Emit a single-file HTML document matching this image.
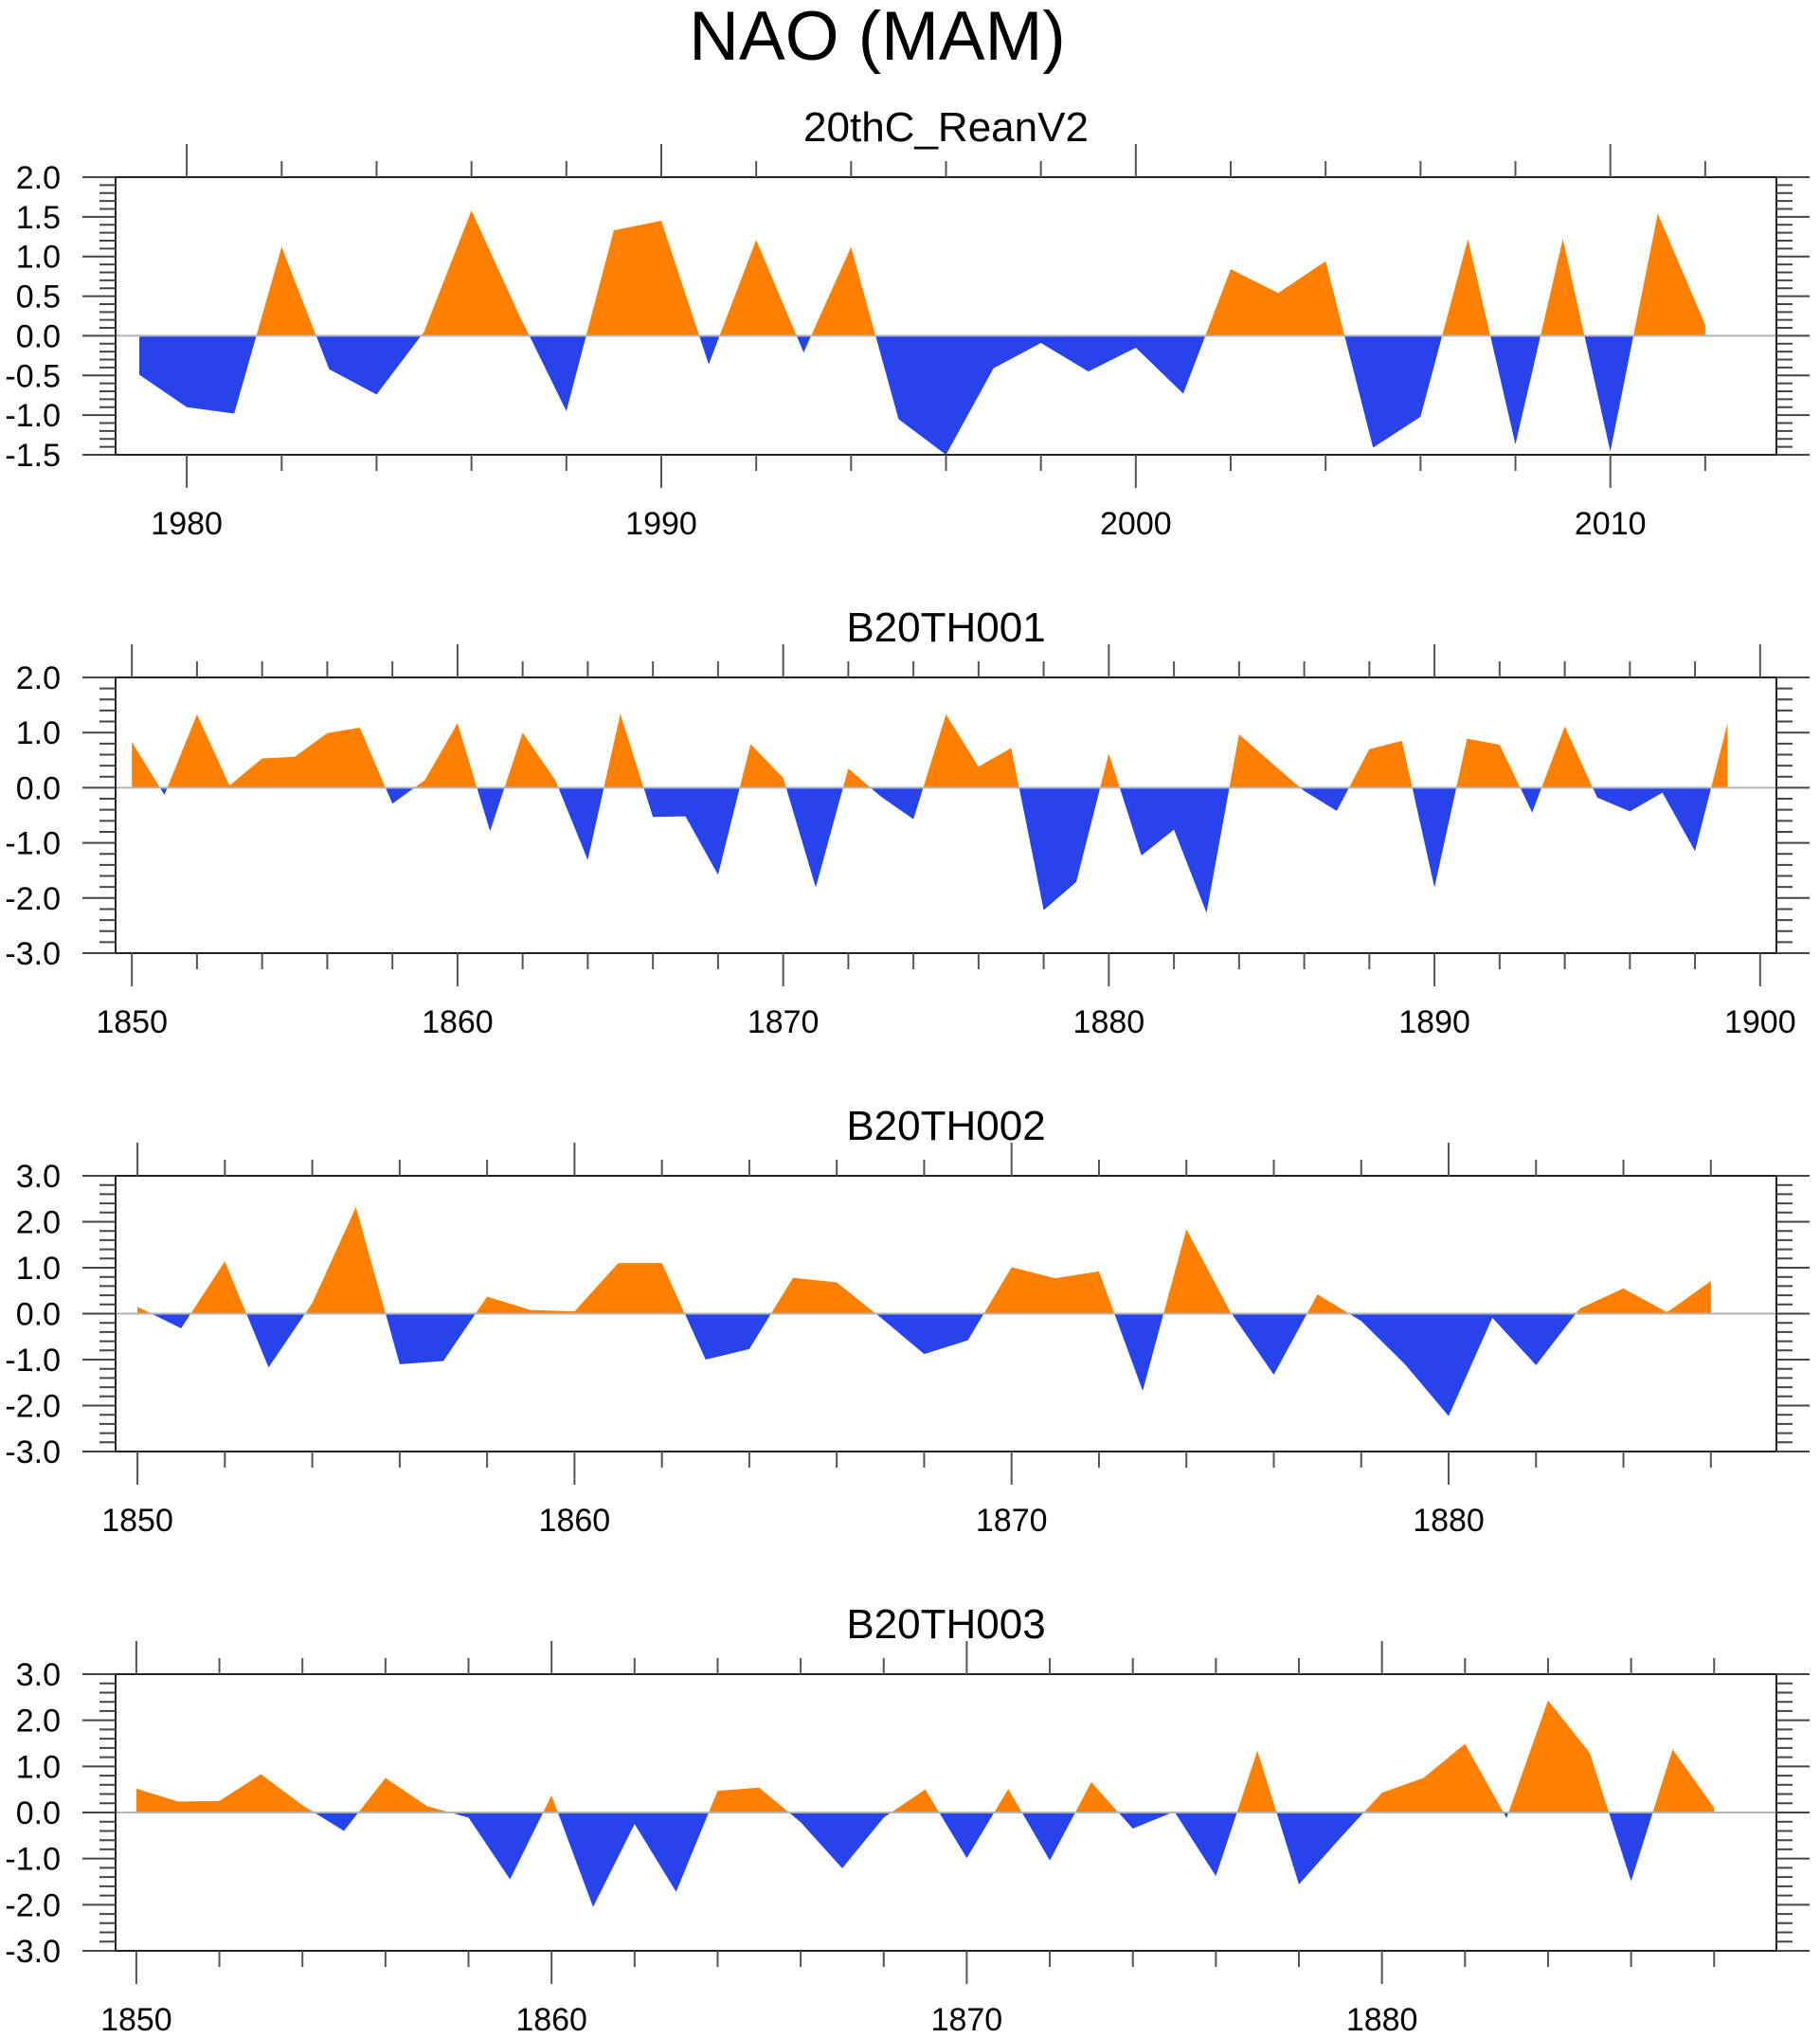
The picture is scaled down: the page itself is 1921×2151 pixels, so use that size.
<!DOCTYPE html>
<html><head><meta charset="utf-8"><style>
html,body{margin:0;padding:0;background:#fff}
svg{display:block}
text{font-family:"Liberation Sans",sans-serif;fill:#000}
</style></head><body>
<svg id="fig" width="1921" height="2151" viewBox="0 0 1921 2151" xmlns="http://www.w3.org/2000/svg">
<text x="926" y="63" font-size="73" text-anchor="middle">NAO (MAM)</text>
</svg>
<script>
const reanYears = [1979,2012];
const reanValues = [-0.49,-0.90,-0.98,1.12,-0.42,-0.74,0.05,1.58,0.27,-0.95,1.33,1.45,-0.36,1.21,-0.21,1.12,-1.05,-1.50,-0.41,-0.09,-0.45,-0.15,-0.73,0.84,0.54,0.94,-1.41,-1.02,1.22,-1.37,1.22,-1.46,1.54,0.14];
const b001Values = [0.83,-0.13,1.33,0.04,0.53,0.56,0.99,1.09,-0.29,0.14,1.17,-0.79,1.0,0.14,-1.31,1.34,-0.53,-0.52,-1.58,0.79,0.18,-1.81,0.35,-0.16,-0.57,1.33,0.38,0.72,-2.22,-1.71,0.62,-1.23,-0.76,-2.27,0.97,0.45,-0.06,-0.42,0.70,0.85,-1.81,0.89,0.78,-0.45,1.11,-0.18,-0.43,-0.09,-1.15,1.17];
const b002Values = [0.15,-0.32,1.14,-1.17,0.23,2.32,-1.10,-1.03,0.37,0.08,0.05,1.10,1.10,-1.0,-0.77,0.78,0.68,-0.08,-0.88,-0.58,1.01,0.77,0.92,-1.68,1.84,0.05,-1.33,0.42,-0.16,-1.10,-2.23,-0.09,-1.12,0.11,0.55,0.03,0.71];
const b003Values = [0.52,0.24,0.25,0.83,0.16,-0.40,0.75,0.14,-0.11,-1.45,0.37,-2.05,-0.25,-1.72,0.47,0.54,-0.21,-1.21,-0.11,0.50,-0.99,0.51,-1.04,0.66,-0.35,0.02,-1.38,1.34,-1.56,-0.55,0.43,0.75,1.49,-0.12,2.43,1.30,-1.49,1.37,0.10];
const reanYTicks = ["2.0","1.5","1.0","0.5","0.0","-0.5","-1.0","-1.5"];
const modelYTicks2 = ["2.0","1.0","0.0","-1.0","-2.0","-3.0"];
const modelYTicks3 = ["3.0","2.0","1.0","0.0","-1.0","-2.0","-3.0"];

const NS="http://www.w3.org/2000/svg";
const svg=document.getElementById('fig');
function mk(tag,attrs,parent){const e=document.createElementNS(NS,tag);for(const k in attrs)e.setAttribute(k,attrs[k]);(parent||svg).appendChild(e);return e;}

const panels=[
 {name:'reanv2',title:'20thC_ReanV2',vals:reanValues,y0:reanYears[0],xmin:1978.5,xmax:2013.5,ymin:-1.5,ymax:2.0,top:187,bot:480,ticks:reanYTicks,minorY:0.1,majorX:10,minorX:2,firstLabel:1980,lastLabel:2010},
 {name:'b20th001',title:'B20TH001',vals:b001Values,y0:1850,xmin:1849.5,xmax:1900.5,ymin:-3,ymax:2,top:715,bot:1006,ticks:modelYTicks2,minorY:0.2,majorX:10,minorX:2,firstLabel:1850,lastLabel:1900},
 {name:'b20th002',title:'B20TH002',vals:b002Values,y0:1850,xmin:1849.5,xmax:1887.5,ymin:-3,ymax:3,top:1241,bot:1532,ticks:modelYTicks3,minorY:0.2,majorX:10,minorX:2,firstLabel:1850,lastLabel:1880},
 {name:'b20th003',title:'B20TH003',vals:b003Values,y0:1850,xmin:1849.5,xmax:1889.5,ymin:-3,ymax:3,top:1767,bot:2059,ticks:modelYTicks3,minorY:0.2,majorX:10,minorX:2,firstLabel:1850,lastLabel:1880}
];
const L=122,R=1875;
panels.forEach((p,pi)=>{
  const g=mk('g',{});
  
  
  const xs=v=>L+(v-p.xmin)/(p.xmax-p.xmin)*(R-L);
  const ys=v=>p.bot-(v-p.ymin)/(p.ymax-p.ymin)*(p.bot-p.top);
  const z=ys(0);
  const t=mk('text',{x:(L+R)/2,y:p.top-38,'font-size':44,'text-anchor':'middle'},g);
  t.textContent=p.title;
  
  
  const defs=mk('defs',{},g);
  const cu=mk('clipPath',{id:'cu'+pi},defs); mk('rect',{x:L,y:p.top,width:R-L,height:z-p.top},cu);
  const cd=mk('clipPath',{id:'cd'+pi},defs); mk('rect',{x:L,y:z,width:R-L,height:p.bot-z},cd);
  let pts=[[xs(p.y0),z]];
  p.vals.forEach((v,i)=>pts.push([xs(p.y0+i),ys(v)]));
  pts.push([xs(p.y0+p.vals.length-1),z]);
  const ptsStr=pts.map(q=>q[0].toFixed(2)+','+q[1].toFixed(2)).join(' ');
  const pos=mk('polygon',{points:ptsStr,fill:'#FF8000','clip-path':'url(#cu'+pi+')'},g);
  
  
  const neg=mk('polygon',{points:ptsStr,fill:'#2744EC','clip-path':'url(#cd'+pi+')'},g);
  
  
  const zl=mk('line',{x1:L,x2:R,y1:z,y2:z,stroke:'#b4b4b4','stroke-width':2},g);
  
  
  const fr=mk('rect',{x:L,y:p.top,width:R-L,height:p.bot-p.top,fill:'none',stroke:'#222','stroke-width':2},g);
  
  
  const nMin=Math.round((p.ymax-p.ymin)/p.minorY);
  for(let k=0;k<=nMin;k++){
    const v=p.ymin+k*p.minorY;const y=ys(v);
    const ratio=(p.ticks.length-1)/(p.ymax-p.ymin);
    const isMaj=Math.abs((p.ymax-v)*ratio-Math.round((p.ymax-v)*ratio))<1e-6;
    const len=isMaj?35:17;
    mk('line',{x1:L-len,x2:L,y1:y,y2:y,stroke:'#444','stroke-width':2},g);
    mk('line',{x1:R,x2:R+len,y1:y,y2:y,stroke:'#444','stroke-width':2},g);
  }
  p.ticks.forEach((lab,i)=>{
    const v=p.ymax-i*(p.ymax-p.ymin)/(p.ticks.length-1);
    const tt=mk('text',{x:64,y:ys(v)+12,'font-size':34,'text-anchor':'end'},g);
    tt.textContent=lab;
    
    
  });
  const start=Math.ceil(p.xmin/p.minorX)*p.minorX;
  for(let yr=start;yr<=p.xmax;yr+=p.minorX){
    const x=xs(yr);const maj=yr%p.majorX===0;const len=maj?35:17;
    mk('line',{x1:x,x2:x,y1:p.bot,y2:p.bot+len,stroke:'#555','stroke-width':2},g);
    mk('line',{x1:x,x2:x,y1:p.top-len,y2:p.top,stroke:'#555','stroke-width':2},g);
  }
  for(let yr=p.firstLabel;yr<=p.lastLabel;yr+=p.majorX){
    const tt=mk('text',{x:xs(yr),y:p.bot+84,'font-size':34,'text-anchor':'middle'},g);
    tt.textContent=String(yr);
    
    
  }
});
</script>
</body></html>
